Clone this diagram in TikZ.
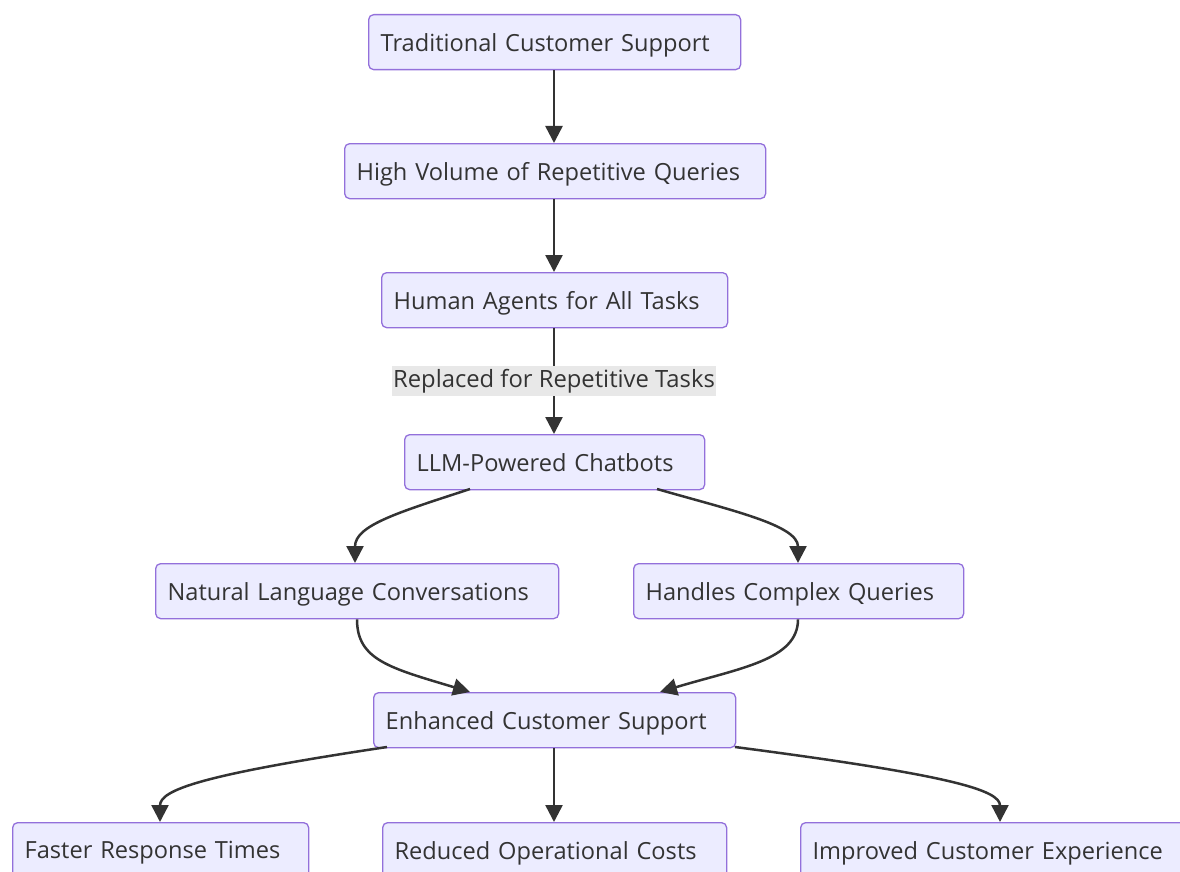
\documentclass[tikz,border=0pt]{standalone}
\usepackage{fontspec}
\setmainfont{Open Sans}
\usetikzlibrary{arrows.meta}
\definecolor{nodefill}{HTML}{ECECFF}
\definecolor{nodeline}{HTML}{9370DB}
\definecolor{ink}{HTML}{333333}
\definecolor{lblbg}{HTML}{E8E8E8}
\tikzset{
  box/.style={draw=nodeline, fill=nodefill, line width=1.3pt, rounded corners=5pt,
    anchor=north west, inner xsep=12pt, inner ysep=0pt, minimum height=55pt,
    text depth=0pt, align=left, text=ink, font=\fontsize{23.6}{28}\selectfont},
  conn/.style={draw=ink, line width=2.5pt, -{Triangle[length=17pt,width=17pt]}},
  lbl/.style={fill=lblbg, text=ink, inner xsep=1pt, inner ysep=3pt, font=\fontsize{23.8}{28}\selectfont}
}
\newcommand{\bx}[6]{\node[box, text width=#4pt-24pt] (#1) at (#2,#3) {#6};}
\begin{document}
\begin{tikzpicture}[x=1pt,y=-1pt]
\useasboundingbox (0,0) rectangle (1180,872);
\begin{scope}
\clip (0,0) rectangle (1180,872);
\bx{tcs}{368}{14}{372}{}{Traditional Customer Support}
\bx{hvr}{344}{143}{421}{}{High Volume of Repetitive Queries}
\bx{hat}{381}{272}{346}{}{Human Agents for All Tasks}
\bx{llm}{404}{434}{300}{}{LLM-Powered Chatbots}
\bx{nlc}{155}{563}{403}{}{Natural Language Conversations}
\bx{hcq}{633}{563}{330}{}{Handles Complex Queries}
\bx{ecs}{373}{692}{362}{}{Enhanced Customer Support}
\bx{frt}{12}{822}{296}{}{Faster Response Times}
\bx{roc}{382}{822}{344}{}{Reduced Operational Costs}
\bx{ice}{800}{822}{400}{}{Improved Customer Experience}

\draw[conn] (tcs.south -| 554,0) -- (hvr.north -| 554,0);
\draw[conn] (hvr.south -| 554,0) -- (hat.north -| 554,0);
\node[lbl] (rl) at (554,381) {Replaced for Repetitive Tasks};
\draw[draw=ink, line width=2.5pt] (hat.south -| 554,0) -- (rl.north -| 554,0);
\draw[conn] (rl.south -| 554,0) -- (llm.north -| 554,0);

\coordinate (l1) at (470,489);
\coordinate (l2) at (657,489);
\draw[conn] (l1) .. controls (400,512) and (355,525) .. (nlc.north -| 355,0);
\draw[conn] (l2) .. controls (730,510) and (798,525) .. (hcq.north -| 798,0);
\draw[conn] (nlc.south -| 357,0) .. controls (357,660) and (390,668) .. (ecs.north -| 470,0);
\draw[conn] (hcq.south -| 798,0) .. controls (798,660) and (740,668) .. (ecs.north -| 660,0);

\coordinate (e1) at (387,747);
\coordinate (e3) at (735,747);
\draw[conn] (e1) .. controls (200,775) and (160,790) .. (frt.north -| 160,0);
\draw[conn] (ecs.south -| 554,0) -- (roc.north -| 554,0);
\draw[conn] (e3) .. controls (950,775) and (1000,790) .. (ice.north -| 1000,0);
\end{scope}
\end{tikzpicture}
\end{document}
